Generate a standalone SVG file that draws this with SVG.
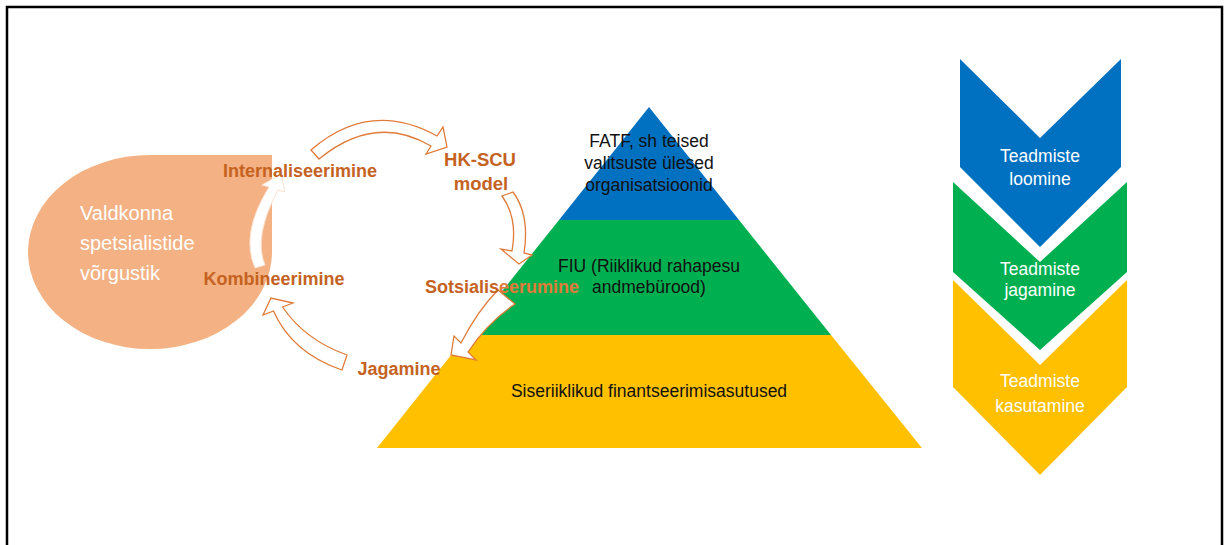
<svg xmlns="http://www.w3.org/2000/svg" width="1225" height="545" viewBox="0 0 1225 545">
<style>
.lbl{font-family:"Liberation Sans",Arial,sans-serif;font-weight:bold;font-size:18px;fill:#C5621F;text-anchor:middle}
.wt{font-family:"Liberation Sans",Arial,sans-serif;font-size:17.5px;fill:#fff;text-anchor:middle}
.bt{font-family:"Liberation Sans",Arial,sans-serif;font-size:17.5px;fill:#111;text-anchor:middle}
.arr{fill:#fff;stroke:#E07B39;stroke-width:1.3;stroke-linejoin:miter}
.chev{stroke:none}
</style>
<rect x="0" y="0" width="1225" height="545" fill="#fff"/>
<path d="M7,560 L7,7 L1222,7 L1222,560" fill="none" stroke="#000" stroke-width="2.5"/>

<g id="network">
<path d="M28,252 A122,97 0 0 1 150,155 L272,155 L272,252 A122,97 0 0 1 150,349 A122,97 0 0 1 28,252 Z" fill="#F4B183"/>
<text x="80" y="220" style="font-family:'Liberation Sans',Arial,sans-serif;font-size:20px;fill:#fff">Valdkonna</text>
<text x="80" y="250" style="font-family:'Liberation Sans',Arial,sans-serif;font-size:20px;fill:#fff">spetsialistide</text>
<text x="80" y="280" style="font-family:'Liberation Sans',Arial,sans-serif;font-size:20px;fill:#fff">võrgustik</text>
</g>

<g id="pyramid">
<g id="level-top">
<polygon points="649,107 739,220 559,220" fill="#0070C0"/>
<text class="bt" x="649" y="147">FATF, sh teised</text>
<text class="bt" x="649" y="169">valitsuste ülesed</text>
<text class="bt" x="649" y="191">organisatsioonid</text>
</g>
<g id="level-mid">
<polygon points="559,220 739,220 831,335 467,335" fill="#00B050"/>
<text class="bt" x="649" y="272">FIU (Riiklikud rahapesu</text>
<text class="bt" x="649" y="293">andmebürood)</text>
</g>
<g id="level-bottom">
<polygon points="467,335 831,335 922,448 377,448" fill="#FFC000"/>
<text class="bt" x="649" y="397">Siseriiklikud finantseerimisasutused</text>
</g>
</g>

<g id="connectors">
<path class="arr" d="M311,150 Q370,99 437,136 L443,127 L447,147 L426,154 L431,146 Q375,113 319,159 Z"/>
<path class="arr" d="M502,196 Q518,218 512,251 L501,249 L519,264 L532,255 L524,253 Q530,215 513,192 Z"/>
<path class="arr" d="M498,290 Q478,310 461,343 L454,336 L451,355 L476,360 L468,352 Q488,322 515,304 Z"/>
<path class="arr" d="M347,355 Q305,340 282.5,307 L293,303 L271,298 L263,315 L273.5,311 Q292,353 342,370 Z"/>
<path d="M255,268 Q240,234 269,187 L262,185 L281,174 L285,192 L278,190 Q253,237 265,265 Z" fill="#fff" stroke="#FBE3D3" stroke-width="1"/>
</g>

<g id="labels">
<text id="internaliseerimine" class="lbl" x="300" y="177">Internaliseerimine</text>
<text id="hkscu" class="lbl" x="480" y="166" style="font-size:18.5px">HK-SCU</text>
<text id="model" class="lbl" x="481" y="190" style="font-size:18.5px">model</text>
<text id="kombineerimine" class="lbl" x="274" y="285">Kombineerimine</text>
<text id="sotsialiseerumine" class="lbl" x="502" y="293"><tspan>Sotsialis</tspan><tspan fill="#E07B39">eerumine</tspan></text>
<text id="jagamine" class="lbl" x="399" y="375">Jagamine</text>
</g>

<g id="chevrons">
<g id="chev-kasutamine">
<polygon class="chev" points="953,280 1040,365 1127,280 1127,387 1040,475 953,387" fill="#FFC000"/>
<text class="wt" x="1040" y="387">Teadmiste</text>
<text class="wt" x="1040" y="412">kasutamine</text>
</g>
<g id="chev-jagamine">
<polygon class="chev" points="953,182 1040,262 1127,182 1127,272 1040,350 953,272" fill="#00B050"/>
<text class="wt" x="1040" y="275">Teadmiste</text>
<text class="wt" x="1040" y="296">jagamine</text>
</g>
<g id="chev-loomine">
<polygon class="chev" points="960,59 1040,138 1121,59 1121,167 1040,247 960,167" fill="#0070C0"/>
<text class="wt" x="1040" y="162">Teadmiste</text>
<text class="wt" x="1040" y="185">loomine</text>
</g>
</g>
</svg>
